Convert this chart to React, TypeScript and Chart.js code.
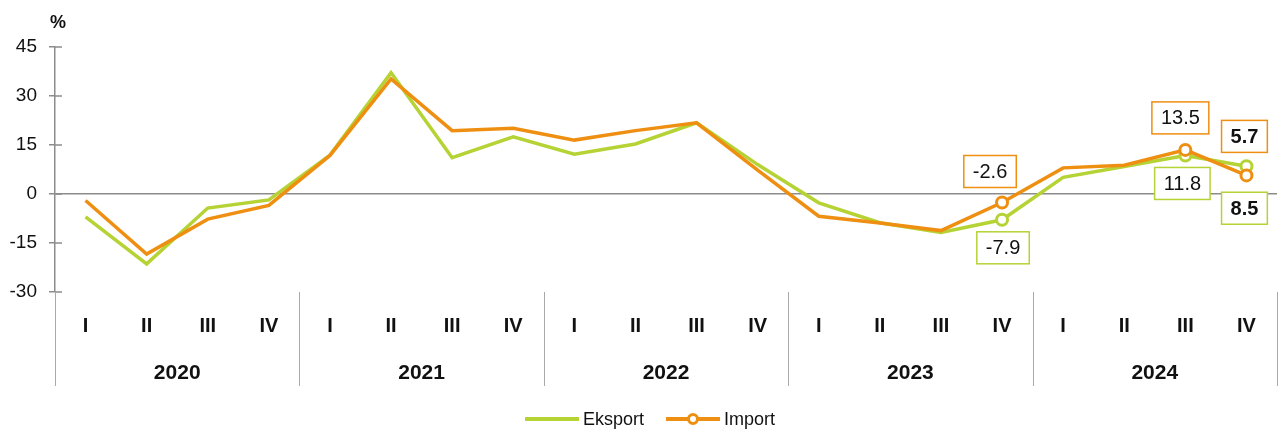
import React, { useEffect, useRef } from "react";
import { Chart, registerables } from "chart.js";

Chart.register(...registerables);

const quarters = [
  "I", "II", "III", "IV",
  "I", "II", "III", "IV",
  "I", "II", "III", "IV",
  "I", "II", "III", "IV",
  "I", "II", "III", "IV",
];
const years = ["2020", "2021", "2022", "2023", "2024"];
const eksport = [
  -7.0, -21.4, -4.3, -1.8,
  11.9, 37.1, 11.1, 17.5,
  12.2, 15.3, 21.8, 9.0,
  -2.7, -8.8, -11.8, -7.9,
  5.1, 8.4, 11.8, 8.5,
];
const importVals = [
  -2.0, -18.4, -7.7, -3.5,
  11.8, 35.2, 19.4, 20.1,
  16.5, 19.4, 21.8, 7.3,
  -6.8, -8.9, -11.2, -2.6,
  8.0, 8.8, 13.5, 5.7,
];
const yTicks = [-30, -15, 0, 15, 30, 45];
const markedIdx = [15, 18, 19];
const seriesNames = ["Eksport", "Import"];

const GREEN = "#b5d334";
const ORANGE = "#ee8f12";
const SANS = '"Liberation Sans", Arial, sans-serif';
const AXIS_GREY = "#8c8c8c";

// callout placement (offsets from the data point)
const callouts = [
  { ds: 1, i: 15, dx: -12, dy: -31, bold: false },
  { ds: 0, i: 15, dx: 1, dy: 28, bold: false },
  { ds: 1, i: 18, dx: -5, dy: -32, bold: false },
  { ds: 0, i: 18, dx: -3, dy: 28, bold: false },
  { ds: 1, i: 19, dx: -2, dy: -39, bold: true },
  { ds: 0, i: 19, dx: -2, dy: 42, bold: true },
];

const radiusFor = (n: number) =>
  Array.from({ length: n }, (_, i) => (markedIdx.includes(i) ? 5.5 : 0));

const overlay = {
  id: "overlay",
  afterDatasetsDraw(chart: any) {
    const ctx = chart.ctx;
    ctx.save();
    callouts.forEach((c) => {
      const ds = chart.data.datasets[c.ds];
      const pt = chart.getDatasetMeta(c.ds).data[c.i];
      const val = ds.data[c.i] as number;
      const text = val.toFixed(1);
      ctx.font = `${c.bold ? "bold " : ""}20px ${SANS}`;
      const tw = ctx.measureText(text).width;
      const bw = tw + 18;
      const bh = 32;
      const cx = pt.x + c.dx;
      const cy = pt.y + c.dy;
      ctx.fillStyle = "#ffffff";
      ctx.fillRect(cx - bw / 2, cy - bh / 2, bw, bh);
      ctx.strokeStyle = ds.borderColor;
      ctx.lineWidth = 1.5;
      ctx.strokeRect(cx - bw / 2, cy - bh / 2, bw, bh);
      ctx.fillStyle = "#111111";
      ctx.textAlign = "center";
      ctx.textBaseline = "middle";
      ctx.fillText(text, cx, cy + 1);
    });
    ctx.restore();
  },
  afterDraw(chart: any) {
    const ctx = chart.ctx;
    const x = chart.scales.x;
    const y = chart.scales.y;
    const labels: string[] = chart.data.labels;
    const n = labels.length;
    const w = (x.right - x.left) / n;
    const per = n / years.length;
    ctx.save();
    // y tick marks crossing to the right of the axis
    ctx.strokeStyle = AXIS_GREY;
    ctx.lineWidth = 1.5;
    yTicks.forEach((v) => {
      const py = y.getPixelForValue(v);
      ctx.beginPath();
      ctx.moveTo(y.right, py);
      ctx.lineTo(y.right + 7, py);
      ctx.stroke();
    });
    // group separators
    ctx.strokeStyle = "#a9a9a9";
    ctx.lineWidth = 1;
    for (let g = 0; g <= years.length; g++) {
      const px = Math.min(Math.round(x.left + g * per * w), chart.width - 1) + 0.5;
      ctx.beginPath();
      ctx.moveTo(px, y.bottom);
      ctx.lineTo(px, 386);
      ctx.stroke();
    }
    ctx.fillStyle = "#111111";
    ctx.textAlign = "center";
    ctx.textBaseline = "middle";
    // quarter labels
    ctx.font = `bold 20px ${SANS}`;
    labels.forEach((q, i) => {
      ctx.fillText(q, x.getPixelForValue(i), 326);
    });
    // year labels
    ctx.font = `bold 21px ${SANS}`;
    years.forEach((yr, g) => {
      ctx.fillText(yr, x.left + (g * per + per / 2) * w, 373);
    });
    // unit
    ctx.font = `bold 18px ${SANS}`;
    ctx.fillText("%", 58, 23);
    // legend
    let lx = 525;
    const ly = 419;
    ctx.font = `18px ${SANS}`;
    ctx.textAlign = "left";
    chart.data.datasets.forEach((ds: any, k: number) => {
      ctx.strokeStyle = ds.borderColor;
      ctx.lineWidth = 4;
      ctx.beginPath();
      ctx.moveTo(lx, ly);
      ctx.lineTo(lx + 54, ly);
      ctx.stroke();
      if (k === 1) {
        ctx.beginPath();
        ctx.arc(lx + 27, ly, 4.5, 0, Math.PI * 2);
        ctx.fillStyle = "#ffffff";
        ctx.fill();
        ctx.lineWidth = 3;
        ctx.stroke();
      }
      ctx.fillStyle = "#111111";
      ctx.fillText(ds.label, lx + 58, ly + 1);
      lx += 58 + ctx.measureText(ds.label).width + 22;
    });
    ctx.restore();
  },
};

export default function App() {
  const ref = useRef<HTMLCanvasElement | null>(null);
  useEffect(() => {
    document.body.style.margin = "0";
    if (!ref.current) return;
    const chart = new Chart(ref.current, {
      type: "line",
      data: {
        labels: quarters,
        datasets: [
          {
            label: seriesNames[0],
            data: eksport,
            borderColor: GREEN,
            backgroundColor: "#ffffff",
            pointBackgroundColor: "#ffffff",
            pointBorderColor: GREEN,
            borderWidth: 3.5,
            pointRadius: radiusFor(eksport.length),
            pointBorderWidth: 3,
            tension: 0,
            order: 2,
            clip: false,
          },
          {
            label: seriesNames[1],
            data: importVals,
            borderColor: ORANGE,
            backgroundColor: "#ffffff",
            pointBackgroundColor: "#ffffff",
            pointBorderColor: ORANGE,
            borderWidth: 3.5,
            pointRadius: radiusFor(importVals.length),
            pointBorderWidth: 3,
            tension: 0,
            order: 1,
            clip: false,
          },
        ],
      },
      options: {
        animation: false,
        responsive: false,
        events: [],
        layout: { autoPadding: false, padding: { top: 47, right: 1, bottom: 44, left: 0 } },
        plugins: {
          legend: { display: false },
          tooltip: { enabled: false },
        },
        scales: {
          x: {
            type: "category",
            offset: true,
            grid: { display: false, drawTicks: false },
            border: { display: false },
            ticks: { display: false },
            afterFit: (s: any) => {
              s.height = 94;
            },
          },
          y: {
            min: -30,
            max: 45,
            afterBuildTicks: (s: any) => {
              s.ticks = yTicks.map((v) => ({ value: v }));
            },
            grid: {
              color: (c: any) => (c.tick && c.tick.value === 0 ? AXIS_GREY : "rgba(0,0,0,0)"),
              lineWidth: 1.5,
              tickColor: AXIS_GREY,
              tickLength: 6,
              drawTicks: true,
            },
            border: { display: true, color: AXIS_GREY, width: 1.5 },
            ticks: {
              padding: 12,
              color: "#111111",
              font: { family: SANS, size: 19 },
            },
            afterFit: (s: any) => {
              s.width = 55;
            },
          },
        },
      },
      plugins: [overlay],
    });
    return () => chart.destroy();
  }, []);
  return (
    <div style={{ width: 1278, height: 430 }}>
      <canvas ref={ref} width={1278} height={430} />
    </div>
  );
}
